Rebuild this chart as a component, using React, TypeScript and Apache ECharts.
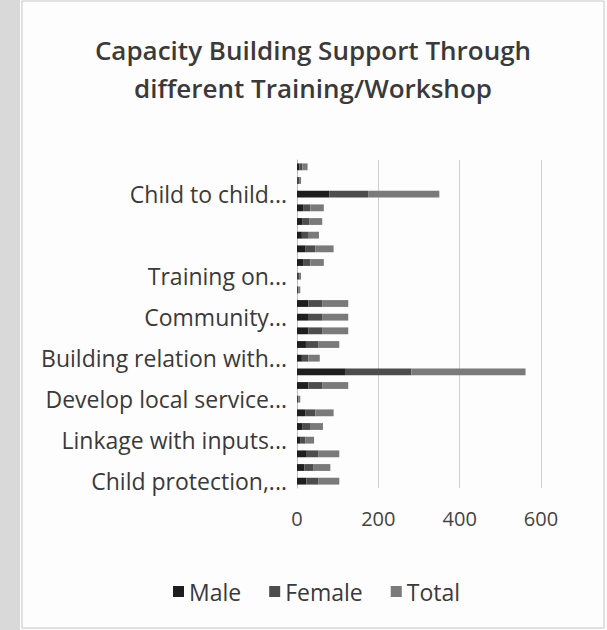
import React, { useEffect, useRef } from "react";
import * as echarts from "echarts";

const categories = [
  "Child protection,...", "", "",
  "Linkage with inputs...", "", "",
  "Develop local service...", "", "",
  "Building relation with...", "", "",
  "Community...", "", "",
  "Training on...", "", "",
  "", "", "",
  "Child to child...", "", "",
];
const male = [23, 18, 24, 9, 14, 20, 2, 28, 118, 12, 22, 28, 27, 28, 2, 2, 15, 20, 12, 14, 15, 80, 2, 6];
const female = [29, 23, 28, 12, 18, 25, 2, 35, 163, 16, 30, 35, 36, 35, 2, 3, 18, 25, 15, 17, 18, 95, 3, 7];
const total = [52, 41, 52, 21, 32, 45, 4, 63, 281, 28, 52, 63, 63, 63, 4, 5, 33, 45, 27, 31, 33, 175, 5, 13];
const xTicks = [0, 200, 400, 600];

const FONT = "'Open Sans', sans-serif";

export default function App() {
  const ref = useRef<HTMLDivElement>(null);
  useEffect(() => {
    const chart = echarts.init(ref.current!, null, { renderer: "svg" });
    chart.setOption({
      animation: false,
      backgroundColor: "#fbfbfb",
      graphic: [
        { type: "rect", shape: { x: 0, y: 0, width: 20, height: 630 }, style: { fill: "#d9d9d9" }, z: -10 },
        { type: "rect", shape: { x: 22, y: 1, width: 582, height: 627 }, style: { fill: "#fdfdfd", stroke: "#c8c8c8", lineWidth: 1 }, z: -9 },
      ],
      title: {
        text: "Capacity Building Support Through\ndifferent Training/Workshop",
        left: 308,
        top: 26,
        textAlign: "center",
        textStyle: { fontFamily: FONT, fontSize: 26, fontWeight: 600, color: "#3a3a3a", lineHeight: 38 },
      },
      legend: {
        top: 575,
        left: 168,
        itemWidth: 11,
        itemHeight: 11,
        itemGap: 28,
        icon: "rect",
        textStyle: { fontFamily: FONT, fontSize: 23, color: "#3a3a3a" },
        data: ["Male", "Female", "Total"],
      },
      grid: { left: 297, right: 66, top: 160, height: 328 },
      xAxis: {
        type: "value",
        min: xTicks[0],
        max: xTicks[xTicks.length - 1],
        interval: 200,
        axisLine: { show: false },
        axisTick: { show: false },
        axisLabel: { fontFamily: FONT, fontSize: 20, color: "#444", margin: 20 },
        splitLine: { lineStyle: { color: "#cfcfcf" } },
      },
      yAxis: {
        type: "category",
        data: categories,
        axisLine: { lineStyle: { color: "#bdbdbd" } },
        axisTick: { interval: 2, length: 6, lineStyle: { color: "#999" } },
        axisLabel: { interval: 2, fontFamily: FONT, fontSize: 23, color: "#3a3a3a", margin: 10 },
      },
      series: [
        { name: "Male", type: "bar", stack: "s", data: male, barCategoryGap: "50%", itemStyle: { color: "#1e1e1e" } },
        { name: "Female", type: "bar", stack: "s", data: female, itemStyle: { color: "#4d4d4d" } },
        { name: "Total", type: "bar", stack: "s", data: total, itemStyle: { color: "#7a7a7a" } },
      ],
    });
    return () => chart.dispose();
  }, []);
  return <div ref={ref} style={{ position: "fixed", left: 0, top: 0, width: 607, height: 630 }} />;
}
